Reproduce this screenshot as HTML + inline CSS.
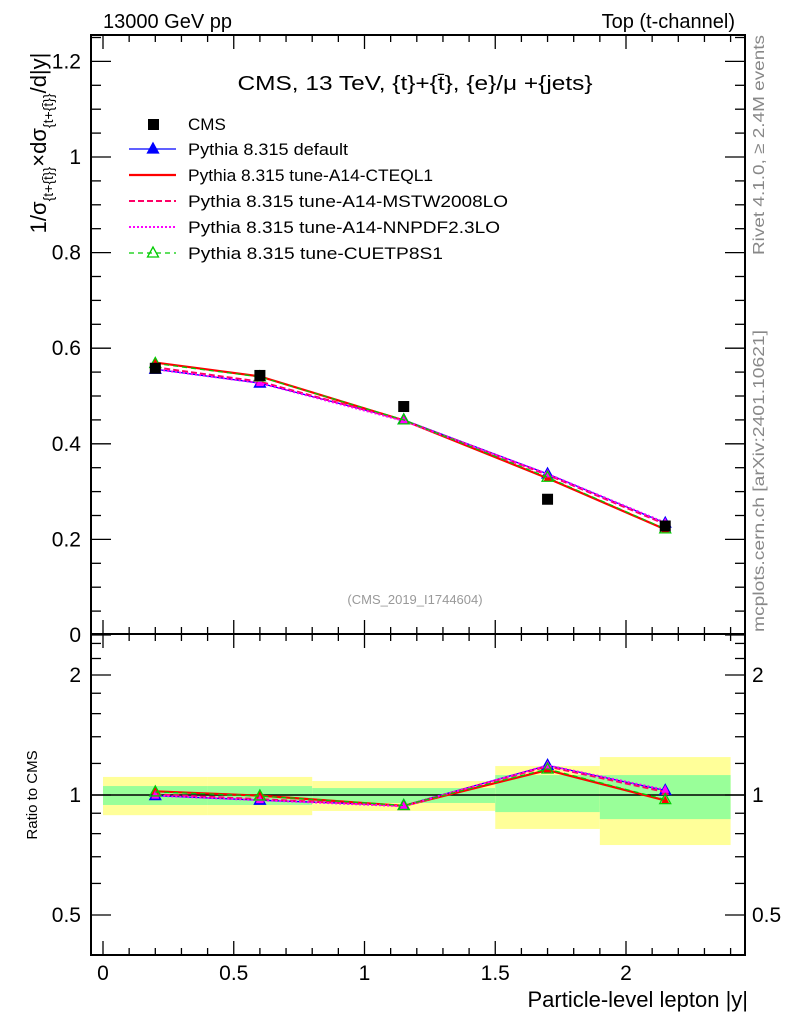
<!DOCTYPE html>
<html><head><meta charset="utf-8"><style>
body{margin:0;background:#fff}
svg text{font-family:"Liberation Sans",sans-serif}
</style></head><body>
<svg id="c" width="786" height="1024" viewBox="0 0 786 1024">
<g id="bands"></g>
<g id="axes"></g>
<g id="series"></g>
<text x="103" y="28" font-size="20">13000 GeV pp</text>
<text x="735" y="28" font-size="20" text-anchor="end">Top (t-channel)</text>
<text x="415" y="90" font-size="20" text-anchor="middle" textLength="355" lengthAdjust="spacingAndGlyphs">CMS, 13 TeV, {t}+{t̄}, {e}/μ +{jets}</text>
<text x="415" y="604" font-size="13" fill="#999" text-anchor="middle">(CMS_2019_I1744604)</text>
<text transform="translate(764,255) rotate(-90)" font-size="16" fill="#888" textLength="220" lengthAdjust="spacingAndGlyphs">Rivet 4.1.0, ≥ 2.4M events</text>
<text transform="translate(764,632) rotate(-90)" font-size="16" fill="#888" textLength="302" lengthAdjust="spacingAndGlyphs">mcplots.cern.ch [arXiv:2401.10621]</text>
<text transform="translate(46,143) rotate(-90)" font-size="22" text-anchor="middle">1/σ<tspan font-size="14" dy="7">{t+{t̄}}</tspan><tspan dy="-7">×dσ</tspan><tspan font-size="14" dy="7">{t+{t̄}}</tspan><tspan dy="-7">/d|y|</tspan></text>
<text transform="translate(37,795) rotate(-90)" font-size="15" text-anchor="middle">Ratio to CMS</text>
<text x="748" y="1007" font-size="22" text-anchor="end">Particle-level lepton |y|</text>
<g id="legend"></g>
</svg>
<script>
const xCenters=[0.2,0.6,1.15,1.7,2.15];
const binEdges=[0,0.4,0.8,1.5,1.9,2.4];
const cmsVals=[0.558,0.543,0.478,0.284,0.228];
const pyDefault=[0.556,0.527,0.450,0.337,0.234];
const pyCTEQ=[0.570,0.541,0.449,0.328,0.221];
const pyMSTW=[0.560,0.530,0.449,0.335,0.232];
const pyNNPDF=[0.556,0.527,0.448,0.337,0.235];
const pyCUETP=[0.568,0.540,0.450,0.330,0.222];
const yellowHi=[1.11,1.11,1.084,1.182,1.245];
const yellowLo=[0.89,0.89,0.912,0.822,0.749];
const greenHi=[1.053,1.053,1.041,1.122,1.122];
const greenLo=[0.944,0.944,0.955,0.906,0.870];
const xTicks=[0,0.5,1,1.5,2];
const xTickLabels=["0","0.5","1","1.5","2"];
const yTicks=[0,0.2,0.4,0.6,0.8,1,1.2];
const yTickLabels=["0","0.2","0.4","0.6","0.8","1","1.2"];
const rTicks=[0.5,1,2];
const rTickLabels=["0.5","1","2"];

const NS="http://www.w3.org/2000/svg";
const L=91,R=745,T=35,MB=634,RB=955;
const X=v=>103+v*261.5;
const Y=v=>635-v*478;
const RY=v=>795-Math.log2(v)*120;
function mk(tag,attrs,parent){const e=document.createElementNS(NS,tag);for(const k in attrs)e.setAttribute(k,attrs[k]);parent.appendChild(e);return e;}
const bands=document.getElementById('bands'),axes=document.getElementById('axes'),ser=document.getElementById('series'),leg=document.getElementById('legend');

for(let i=0;i<xCenters.length;i++){
 const y=mk('rect',{x:X(binEdges[i]),y:RY(yellowHi[i]),width:X(binEdges[i+1])-X(binEdges[i]),height:RY(yellowLo[i])-RY(yellowHi[i]),fill:'#ffff99'},bands);
 
 
 const g=mk('rect',{x:X(binEdges[i]),y:RY(greenHi[i]),width:X(binEdges[i+1])-X(binEdges[i]),height:RY(greenLo[i])-RY(greenHi[i]),fill:'#99ff99'},bands);
 
 
}
mk('rect',{x:L,y:T,width:R-L,height:MB-T,fill:'none',stroke:'#000','stroke-width':2},axes);
mk('rect',{x:L,y:MB,width:R-L,height:RB-MB,fill:'none',stroke:'#000','stroke-width':2},axes);
mk('line',{x1:L,x2:R,y1:RY(1),y2:RY(1),stroke:'#000','stroke-width':1.5},axes);
for(let v=0;v<=2.45;v+=0.1){const m=Math.abs(v*2-Math.round(v*2))<1e-6;const len=m?14:7;const x=X(v);
 for(const [a,b] of [[T,T+len],[MB,MB-len],[MB,MB+len],[RB,RB-len]]) mk('line',{x1:x,x2:x,y1:a,y2:b,stroke:'#000','stroke-width':1.3},axes);}
xTicks.forEach((v,i)=>{const t=mk('text',{x:X(v),y:980,'font-size':21,'text-anchor':'middle'},axes);t.textContent=xTickLabels[i];
 
 });
for(let k=0;k<=25;k++){const v=k*0.05;const y=Y(v);if(y<T)continue;const m=k%4==0;const len=m?20:10;
 mk('line',{x1:L,x2:L+len,y1:y,y2:y,stroke:'#000','stroke-width':1.3},axes);mk('line',{x1:R,x2:R-len,y1:y,y2:y,stroke:'#000','stroke-width':1.3},axes);}
yTicks.forEach((v,i)=>{const t=mk('text',{x:81,y:Y(v)+7,'font-size':21,'text-anchor':'end'},axes);t.textContent=yTickLabels[i];
 
 });
const minor=[0.5,0.6,0.7,0.8,0.9,1,1.2,1.4,1.6,1.8,2,2.2,2.4];
minor.forEach(v=>{const y=RY(v);const m=rTicks.includes(v);const len=m?20:10;
 mk('line',{x1:L,x2:L+len,y1:y,y2:y,stroke:'#000','stroke-width':1.3},axes);mk('line',{x1:R,x2:R-len,y1:y,y2:y,stroke:'#000','stroke-width':1.3},axes);});
rTicks.forEach((v,i)=>{const t=mk('text',{x:81,y:RY(v)+7,'font-size':21,'text-anchor':'end'},axes);t.textContent=rTickLabels[i];
 
 
 const t2=mk('text',{x:752,y:RY(v)+7,'font-size':21},axes);t2.textContent=rTickLabels[i];
 
 });

function tri(p,x,y,col,fill){return mk('polygon',{points:`${x},${y-6} ${x-5.5},${y+4} ${x+5.5},${y+4}`,fill:fill?col:'none',stroke:col,'stroke-width':1.3},p);}
const series=[
 {vals:pyDefault,col:'#0000ff',dash:'',w:1.3,mk:'tri',name:'Pythia 8.315 default'},
 {vals:pyCTEQ,col:'#ff0000',dash:'',w:2.2,mk:null,name:'Pythia 8.315 tune-A14-CTEQL1'},
 {vals:pyMSTW,col:'#ff0066',dash:'6,3',w:2,mk:null,name:'Pythia 8.315 tune-A14-MSTW2008LO'},
 {vals:pyNNPDF,col:'#ff00ff',dash:'2,2',w:2,mk:null,name:'Pythia 8.315 tune-A14-NNPDF2.3LO'},
 {vals:pyCUETP,col:'#00cc00',dash:'5,4',w:1.3,mk:'otri',name:'Pythia 8.315 tune-CUETP8S1'}];
const legW=[160,245,320,312,255];
series.forEach((s,si)=>{
 const g=mk('g',{},ser);
 
 
 const pm=s.vals.map((v,i)=>X(xCenters[i])+','+Y(v)).join(' ');
 const pr=s.vals.map((v,i)=>X(xCenters[i])+','+RY(v/cmsVals[i])).join(' ');
 mk('polyline',{points:pm,fill:'none',stroke:s.col,'stroke-width':s.w,'stroke-dasharray':s.dash},g);
 mk('polyline',{points:pr,fill:'none',stroke:s.col,'stroke-width':s.w,'stroke-dasharray':s.dash},g);
 s.vals.forEach((v,i)=>{
  if(s.mk){tri(g,X(xCenters[i]),Y(v),s.col,s.mk=='tri');tri(g,X(xCenters[i]),RY(v/cmsVals[i]),s.col,s.mk=='tri');}
  else{mk('polygon',{points:`${X(xCenters[i])},${Y(v)-5} ${X(xCenters[i])-4},${Y(v)+3} ${X(xCenters[i])+4},${Y(v)+3}`,fill:s.col},g);
   mk('polygon',{points:`${X(xCenters[i])},${RY(v/cmsVals[i])-5} ${X(xCenters[i])-4},${RY(v/cmsVals[i])+3} ${X(xCenters[i])+4},${RY(v/cmsVals[i])+3}`,fill:s.col},g);}
 });
 const ly=149+si*26;
 mk('line',{x1:129,x2:176,y1:ly,y2:ly,stroke:s.col,'stroke-width':s.w,'stroke-dasharray':s.dash},leg);
 if(s.mk) tri(leg,153,ly,s.col,s.mk=='tri');
 const t=mk('text',{x:188,y:ly+6,'font-size':17,textLength:legW[si],lengthAdjust:'spacingAndGlyphs'},leg);t.textContent=s.name;
 
 
});
cmsVals.forEach((v,i)=>{const r=mk('rect',{x:X(xCenters[i])-5.5,y:Y(v)-5.5,width:11,height:11,fill:'#000'},ser);
 
 });
mk('rect',{x:148,y:119,width:11,height:11,fill:'#000'},leg);
const lt=mk('text',{x:188,y:130,'font-size':17},leg);lt.textContent='CMS';


</script>
</body></html>
